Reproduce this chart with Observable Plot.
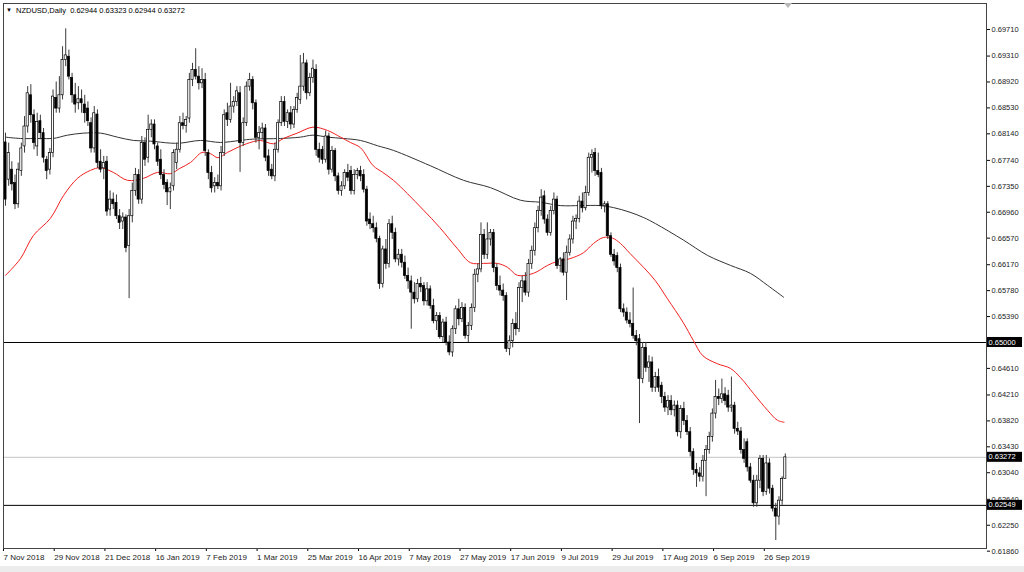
<!DOCTYPE html>
<html><head><meta charset="utf-8">
<script src="https://cdn.jsdelivr.net/npm/d3@7"></script>
<script src="https://cdn.jsdelivr.net/npm/@observablehq/plot@0.6"></script>
<style>
html,body{margin:0;padding:0;background:#ececec;}
#chart{width:1024px;height:566px;background:#fff;}
svg{display:block;}
</style></head><body><div id="chart"></div>
<script>
// Daily NZDUSD candles, prices in 1/10000 (pips), one entry per bar, left to right
const openPips = [
6801,6745,6760,6740,6708,6758,6795,6825,6872,6842,
6795,6833,6815,6775,6760,6785,6868,6852,6872,6925,
6930,6898,6872,6860,6866,6858,6852,6830,6792,6843,
6772,6762,6772,6700,6715,6710,6690,6682,6688,6645,
6690,6728,6752,6715,6800,6778,6820,6828,6795,6775,
6752,6740,6726,6735,6770,6790,6830,6826,6837,6895,
6910,6900,6890,6895,6785,6755,6735,6740,6735,6785,
6845,6835,6855,6862,6875,6800,6830,6885,6895,6860,
6808,6815,6822,6780,6760,6750,6790,6830,6862,6832,
6845,6828,6850,6865,6885,6920,6875,6898,6910,6790,
6790,6775,6810,6760,6788,6750,6728,6735,6755,6758,
6728,6752,6758,6752,6730,6685,6678,6672,6656,6588,
6640,6618,6678,6665,6625,6632,6620,6600,6592,6575,
6565,6588,6585,6562,6580,6555,6532,6540,6508,6530,
6500,6485,6520,6550,6535,6552,6510,6525,6552,6602,
6610,6662,6632,6655,6665,6612,6585,6578,6570,6490,
6502,6528,6520,6582,6592,6575,6618,6638,6672,6698,
6720,6685,6665,6698,6715,6615,6625,6605,6635,6655,
6682,6686,6712,6702,6725,6778,6785,6758,6755,6705,
6708,6660,6632,6630,6612,6550,6545,6533,6528,6510,
6505,6445,6492,6462,6470,6432,6448,6435,6418,6402,
6412,6398,6405,6365,6400,6382,6365,6335,6308,6303,
6298,6322,6338,6358,6393,6418,6415,6422,6420,6402,
6405,6370,6366,6338,6350,6312,6292,6258,6292,6325,
6275,6318,6280,6250,6238,6262,6294.4];
const highPips = [
6815,6800,6772,6752,6770,6800,6840,6885,6888,6850,
6845,6842,6822,6780,6792,6880,6892,6900,6945,6972,
6940,6905,6890,6885,6880,6872,6862,6838,6855,6850,
6790,6780,6780,6728,6725,6722,6700,6695,6692,6700,
6740,6762,6760,6810,6808,6842,6835,6835,6800,6790,
6760,6745,6740,6790,6800,6840,6845,6840,6905,6920,
6942,6915,6912,6905,6790,6765,6748,6752,6795,6850,
6860,6890,6870,6885,6885,6838,6892,6905,6900,6865,
6825,6830,6828,6790,6768,6800,6835,6870,6870,6850,
6855,6855,6875,6932,6935,6925,6905,6925,6918,6800,
6795,6818,6815,6795,6792,6755,6742,6760,6768,6765,
6760,6762,6765,6760,6735,6695,6690,6680,6660,6645,
6655,6685,6690,6672,6640,6640,6630,6612,6600,6590,
6595,6598,6590,6590,6585,6565,6545,6545,6535,6538,
6510,6525,6555,6565,6560,6558,6530,6558,6610,6618,
6680,6670,6680,6670,6670,6618,6600,6588,6575,6510,
6535,6545,6590,6600,6605,6625,6645,6680,6705,6730,
6728,6692,6705,6725,6720,6628,6635,6645,6662,6690,
6692,6720,6725,6735,6785,6790,6792,6785,6762,6712,
6712,6665,6640,6635,6618,6558,6552,6545,6582,6518,
6512,6500,6500,6480,6478,6455,6460,6440,6425,6420,
6420,6412,6412,6405,6410,6390,6372,6340,6318,6312,
6330,6345,6365,6400,6443,6430,6445,6432,6428,6448,
6410,6380,6372,6355,6355,6318,6300,6300,6330,6330,
6330,6325,6285,6258,6268,6298,6332.3];
const lowPips = [
6705,6735,6728,6700,6702,6750,6785,6815,6830,6790,
6780,6805,6770,6745,6752,6778,6845,6845,6865,6915,
6895,6860,6845,6850,6845,6830,6825,6785,6785,6762,
6755,6745,6690,6690,6700,6685,6670,6670,6635,6566,
6680,6720,6708,6708,6765,6770,6808,6790,6765,6745,
6730,6706,6700,6728,6760,6785,6820,6815,6830,6885,
6895,6880,6882,6780,6745,6725,6725,6730,6728,6780,
6825,6830,6845,6855,6756,6795,6825,6878,6850,6800,
6790,6805,6772,6750,6745,6742,6785,6825,6825,6822,
6820,6822,6845,6858,6878,6865,6870,6890,6780,6770,
6768,6770,6752,6755,6742,6722,6720,6730,6742,6722,
6722,6745,6742,6725,6675,6670,6665,6650,6580,6582,
6610,6612,6655,6620,6615,6612,6595,6580,6520,6558,
6560,6575,6555,6555,6550,6528,6518,6505,6500,6495,
6480,6478,6512,6525,6530,6505,6500,6518,6545,6590,
6605,6625,6625,6645,6605,6578,6570,6562,6485,6480,
6492,6510,6515,6560,6570,6568,6610,6630,6665,6690,
6678,6660,6660,6692,6610,6605,6600,6563,6630,6648,
6670,6680,6695,6698,6720,6755,6750,6748,6700,6695,
6655,6628,6615,6605,6545,6538,6528,6522,6505,6495,
6378,6438,6455,6440,6425,6425,6425,6408,6395,6390,
6390,6388,6358,6355,6375,6360,6328,6300,6282,6290,
6290,6268,6332,6350,6385,6405,6408,6405,6395,6395,
6362,6360,6332,6318,6305,6288,6252,6252,6280,6268,
6270,6272,6245,6202,6225,6255,6294.4];
const closePips = [
6715,6785,6738,6708,6760,6792,6825,6875,6842,6800,
6832,6815,6778,6758,6785,6870,6852,6872,6925,6932,
6900,6872,6858,6866,6860,6845,6833,6792,6845,6770,
6760,6770,6697,6715,6708,6690,6680,6688,6642,6690,
6728,6752,6715,6800,6775,6820,6828,6798,6772,6752,
6737,6726,6732,6785,6790,6830,6826,6835,6895,6910,
6900,6890,6895,6788,6755,6732,6740,6735,6785,6842,
6835,6855,6862,6878,6800,6830,6885,6895,6860,6808,
6815,6822,6778,6758,6750,6790,6830,6862,6832,6845,
6828,6850,6868,6885,6920,6875,6898,6912,6790,6778,
6775,6810,6760,6788,6750,6728,6735,6755,6748,6728,
6752,6758,6750,6730,6682,6678,6672,6656,6588,6640,
6618,6678,6665,6625,6632,6620,6600,6592,6575,6565,
6588,6583,6562,6580,6555,6532,6540,6508,6530,6500,
6485,6520,6550,6535,6552,6510,6525,6552,6602,6610,
6662,6632,6655,6665,6612,6585,6578,6570,6490,6502,
6528,6520,6582,6592,6575,6618,6638,6672,6698,6718,
6685,6665,6698,6715,6615,6625,6605,6635,6655,6682,
6686,6712,6702,6725,6778,6782,6758,6752,6705,6708,
6660,6632,6622,6612,6550,6545,6533,6528,6510,6502,
6445,6492,6462,6470,6432,6448,6432,6418,6402,6412,
6398,6405,6365,6400,6382,6365,6335,6308,6303,6298,
6322,6338,6358,6393,6418,6415,6422,6412,6402,6405,
6370,6366,6338,6325,6312,6292,6258,6292,6325,6275,
6318,6280,6250,6238,6262,6294.4,6327.2];

// Moving averages (bar index, price in pips)
const redIdx = [0,4.7,8.8,14.2,18.3,22.7,26.8,30,34,38.5,43.5,48,52,55,58.4,62,64.7,67,70,73,76,80.4,84.5,87.7,92,97,101.6,105.7,108.8,112,116,119,122.4,126.8,131.9,137,142.6,146.7,150.8,155.2,158.4,161.5,166.5,171,174,178,182.3,185.5,188.6,191.5,194,197,201.3,205,208.8,213.8,217,220,224.6,228.7,231.9,236,240.4,243.5,245.6];
const redVal = [6601,6626,6661,6687,6721,6747,6759,6763,6756,6744,6747,6756,6754,6762,6771,6786,6784,6778,6786,6793,6799,6804,6799,6807,6815,6824,6819,6809,6801,6793,6766,6756,6744,6724,6699,6673,6641,6620,6619,6619,6613,6601,6604,6616,6622,6626,6635,6649,6658,6657,6649,6634,6613,6593,6566,6530,6503,6480,6468,6461,6447,6423,6398,6383,6380];
const blackIdx = [0,4.7,11,15,19.6,24.6,30,35.3,40.4,45.7,52,55.2,61.5,67.8,74,78,86.8,93,97,101.6,106.6,112,117.4,122.4,134,144.5,153,162.5,168.8,175,181.4,187.7,191.8,197,201.3,205,213.9,221.5,228.7,235,240.4,245.5];
const blackVal = [6809,6807,6807,6807,6812,6815,6815,6809,6804,6803,6800,6800,6804,6801,6804,6806,6807,6809,6812,6809,6807,6804,6796,6789,6766,6744,6733,6714,6711,6706,6706,6706,6703,6696,6688,6679,6654,6631,6616,6604,6586,6568];

// Axis labels
const dateTickIdx = [0,16,32,48,64,80,96,112,128,144,160,176,192,208,224,240];
const dateLabels = ["7 Nov 2018","29 Nov 2018","21 Dec 2018","16 Jan 2019","7 Feb 2019","1 Mar 2019","25 Mar 2019","16 Apr 2019","7 May 2019","27 May 2019","17 Jun 2019","9 Jul 2019","29 Jul 2019","17 Aug 2019","6 Sep 2019","26 Sep 2019"];
const priceTicks = [0.69710,0.69310,0.68920,0.68530,0.68140,0.67740,0.67350,0.66960,0.66570,0.66170,0.65780,0.65390,0.64610,0.64210,0.63820,0.63430,0.63040,0.62640,0.62250,0.61860];
const levelLines = [0.65000,0.62549];
const bidLine = [0.63272];
const highlighted = [0.65000,0.63272,0.62549];
const header = "NZDUSD,Daily  0.62944 0.63323 0.62944 0.63272";

const candles = openPips.map((o,i)=>({i, open:o/1e4, high:highPips[i]/1e4, low:lowPips[i]/1e4, close:closePips[i]/1e4}));
const red = redIdx.map((x,k)=>({i:x, v:redVal[k]/1e4}));
const black = blackIdx.map((x,k)=>({i:x, v:blackVal[k]/1e4}));
const labelMap = new Map(dateTickIdx.map((d,k)=>[d, dateLabels[k]]));

const W = 1024, H = 566;
const FONT = "'Liberation Sans', Arial, sans-serif";
const chart = Plot.plot({
  width: W, height: H,
  marginTop: 3, marginLeft: 3, marginRight: 38, marginBottom: 18,
  style: {background:"#fff", fontFamily: FONT, color:"#111"},
  x: {domain: [-0.63, 309.47], label: null},
  y: {domain: [0.6190, 0.70101], label: null},
  marks: [
    Plot.ruleY(bidLine, {stroke:"#c4c4c4", strokeWidth:1}),
    Plot.ruleY(levelLines, {stroke:"#000", strokeWidth:1}),
    Plot.line(black, {x:"i", y:"v", stroke:"#333", strokeWidth:1, curve:"catmull-rom"}),
    Plot.line(red, {x:"i", y:"v", stroke:"#f02020", strokeWidth:1, curve:"catmull-rom"}),
    Plot.ruleX(candles, {x:"i", y1:"low", y2:"high", stroke:"#3a3a3a", strokeWidth:1}),
    Plot.rect(candles, {x1: d=>d.i-0.34, x2: d=>d.i+0.34, y1:"open", y2:"close",
      fill: d=>d.close>=d.open ? "#fff" : "#000", stroke:"#000", strokeWidth:0.7}),
    Plot.axisY(priceTicks, {anchor:"right", label: null, tickSize:3, tickPadding:2, tickFormat: d=>d.toFixed(5), fontSize:7.5, fill:"#222", stroke:"#000"}),
    Plot.axisX(dateTickIdx, {anchor:"bottom", label: null, tickSize:3, tickPadding:3, tickFormat: d=>labelMap.get(d), textAnchor:"start", dx:-2, fontSize:8, fill:"#222", stroke:"#000"}),
    Plot.frame({stroke:"#444"})
  ]
});
document.getElementById("chart").appendChild(chart);

const svg = d3.select(chart);
const ys = chart.scale("y");
for (const v of highlighted) {
  const y = ys.apply(v);
  svg.append("rect").attr("x", W-37).attr("y", y-5).attr("width", 35).attr("height", 10).attr("fill", "#000");
  svg.append("text").attr("x", W-35.5).attr("y", y).attr("dy", "0.34em").attr("text-anchor", "start")
    .attr("fill", "#fff").attr("font-size", 7.5).attr("font-family", FONT)
    .text(v.toFixed(5));
}
svg.append("text").attr("x", 6).attr("y", 12).attr("text-anchor", "start").attr("font-size", 6).attr("fill", "#000").text("▼");
svg.append("text").attr("x", 16).attr("y", 13).attr("text-anchor", "start").attr("font-size", 7.5).attr("fill", "#000")
  .attr("font-family", FONT).style("white-space","pre").text(header);
svg.append("path").attr("d", "M784,3 L792,3 L788,8 Z").attr("fill", "#b8b8b8");
</script>
</body></html>
